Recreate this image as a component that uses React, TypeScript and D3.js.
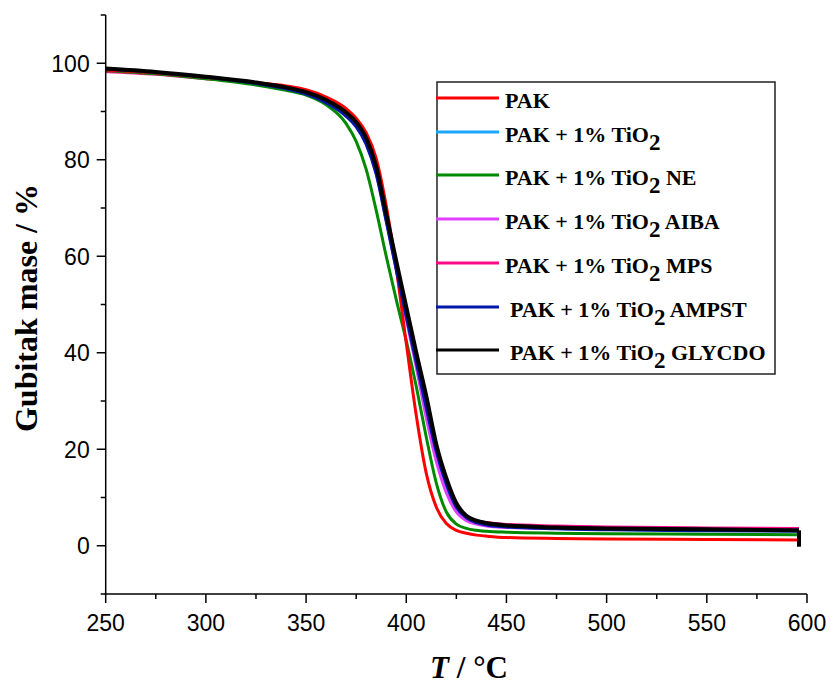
import React from "react";
import * as d3 from "d3";

const temps = [250, 275, 300, 325, 340, 350, 360, 370, 375, 380, 385, 390, 395, 400, 405, 410, 415, 420, 425, 430, 435, 440, 450, 475, 500, 550, 596];

const pak = [98.6, 98.0, 97.1, 96.0, 95.3, 94.5, 93.0, 90.6, 88.6, 85.6, 80.3, 70.5, 57.5, 42.0, 27.0, 15.0, 8.0, 4.6, 3.2, 2.6, 2.2, 2.0, 1.7, 1.5, 1.4, 1.3, 1.2];
const tio2 = [98.6, 98.0, 97.0, 95.8, 94.8, 93.8, 92.1, 89.4, 87.2, 83.8, 77.8, 68.0, 58.0, 48.0, 38.3, 28.0, 19.0, 12.3, 7.7, 5.6, 4.7, 4.3, 3.9, 3.6, 3.4, 3.2, 3.1];
const tio2NE = [98.5, 97.8, 96.8, 95.5, 94.4, 93.4, 91.4, 87.5, 83.8, 78.0, 69.5, 60.0, 51.0, 42.5, 33.0, 22.5, 13.0, 7.0, 4.5, 3.6, 3.2, 3.0, 2.8, 2.6, 2.5, 2.4, 2.3];
const tio2AIBA = [98.7, 98.0, 97.0, 95.8, 94.8, 93.8, 92.0, 89.2, 87.0, 83.4, 77.2, 67.5, 57.3, 47.0, 37.0, 26.5, 17.5, 11.0, 7.0, 5.2, 4.5, 4.1, 3.8, 3.6, 3.5, 3.4, 3.3];
const tio2MPS = [98.3, 97.7, 96.8, 95.8, 94.9, 94.0, 92.3, 89.6, 87.5, 84.2, 78.5, 69.0, 58.8, 49.0, 39.5, 29.5, 20.5, 13.5, 8.5, 6.1, 5.2, 4.8, 4.4, 4.1, 3.9, 3.7, 3.6];
const tio2AMPST = [98.8, 98.1, 97.1, 95.8, 94.7, 93.6, 91.8, 89.0, 86.8, 83.2, 77.0, 67.2, 57.2, 47.5, 38.0, 28.5, 19.5, 12.8, 8.0, 5.8, 4.8, 4.3, 3.9, 3.5, 3.3, 3.1, 3.0];
const tio2GLYCDO = [98.9, 98.2, 97.2, 96.0, 95.0, 94.0, 92.4, 89.8, 87.8, 84.5, 78.6, 68.8, 59.0, 49.5, 40.0, 31.0, 21.0, 14.0, 8.8, 6.2, 5.2, 4.7, 4.2, 3.8, 3.6, 3.4, 3.2];
const glycdoTail = [[596, 3.2], [596, -0.2]];

const seriesNames = ["PAK", "PAK + 1% TiO", "PAK + 1% TiO", "PAK + 1% TiO", "PAK + 1% TiO", "PAK + 1% TiO", "PAK + 1% TiO"];
const seriesSubs = ["", "2", "2", "2", "2", "2", "2"];
const seriesSuffix = ["", "", " NE", " AIBA", " MPS", " AMPST", " GLYCDO"];
const seriesValues = [pak, tio2, tio2NE, tio2AIBA, tio2MPS, tio2AMPST, tio2GLYCDO];
const seriesColors = ["#ff0000", "#1aa6ff", "#008a00", "#dd40ff", "#ff0a88", "#0018a8", "#000000"];
const seriesWidths = [3, 3, 3, 3, 3, 3, 4];
const drawOrder = [1, 4, 3, 2, 0, 5, 6];

const xTicks = [250, 300, 350, 400, 450, 500, 550, 600];
const xMinor = [275, 325, 375, 425, 475, 525, 575];
const yTicks = [0, 20, 40, 60, 80, 100];
const yMinor = [-10, 10, 30, 50, 70, 90, 110];

export default function App() {
  const W = 833, H = 684;
  const x = d3.scaleLinear().domain([250, 600]).range([105.7, 807]);
  const y = d3.scaleLinear().domain([-10, 110]).range([594, 15]);
  const line = d3
    .line<[number, number]>()
    .x((d) => x(d[0]))
    .y((d) => y(d[1]))
    .curve(d3.curveMonotoneX);
  const lineLin = d3
    .line<number[]>()
    .x((d) => x(d[0]))
    .y((d) => y(d[1]));

  const axisFont = "Arial, 'Liberation Sans', sans-serif";
  const serif = "'Times New Roman', 'Liberation Serif', serif";
  const legendRowY = [98, 132, 175, 219, 263, 307, 350];
  const legendTextX = [505, 505, 505, 505, 505, 510, 510];

  return (
    <svg width={W} height={H} style={{ position: "absolute", left: 0, top: 0, background: "#fff" }}>
      <rect x={0} y={0} width={W} height={H} fill="#fff" />
      {drawOrder.map((i) => (
        <path
          key={i}
          d={line(temps.map((t, k) => [t, seriesValues[i][k]]) as [number, number][]) || ""}
          fill="none"
          stroke={seriesColors[i]}
          strokeWidth={seriesWidths[i]}
          strokeLinejoin="round"
        />
      ))}
      <path d={lineLin(glycdoTail) || ""} fill="none" stroke="#000" strokeWidth={4} />

      {/* axes */}
      <line x1={x(250)} x2={x(250)} y1={y(110)} y2={y(-10)} stroke="#000" strokeWidth={1.5} />
      <line x1={x(250) - 1} x2={x(600)} y1={y(-10)} y2={y(-10)} stroke="#000" strokeWidth={1.5} />
      {yTicks.map((t) => (
        <g key={"y" + t}>
          <line x1={x(250) - 9} x2={x(250)} y1={y(t)} y2={y(t)} stroke="#000" strokeWidth={1.5} />
          <text x={x(250) - 16} y={y(t)} dy="0.36em" textAnchor="end" fontFamily={axisFont} fontSize={23}>
            {t}
          </text>
        </g>
      ))}
      {yMinor.map((t) => (
        <line key={"ym" + t} x1={x(250) - 5} x2={x(250)} y1={y(t)} y2={y(t)} stroke="#000" strokeWidth={1.5} />
      ))}
      {xTicks.map((t) => (
        <g key={"x" + t}>
          <line x1={x(t)} x2={x(t)} y1={y(-10)} y2={y(-10) + 9} stroke="#000" strokeWidth={1.5} />
          <text x={x(t)} y={631} textAnchor="middle" fontFamily={axisFont} fontSize={23}>
            {t}
          </text>
        </g>
      ))}
      {xMinor.map((t) => (
        <line key={"xm" + t} x1={x(t)} x2={x(t)} y1={y(-10)} y2={y(-10) + 5} stroke="#000" strokeWidth={1.5} />
      ))}

      {/* axis titles */}
      <text
        transform={`translate(37, 308) rotate(-90)`}
        textAnchor="middle"
        fontFamily={serif}
        fontWeight="bold"
        fontSize={32}
      >
        Gubitak mase / %
      </text>
      <text x={469} y={678} textAnchor="middle" fontFamily={serif} fontWeight="bold" fontSize={31}>
        <tspan fontStyle="italic">T</tspan> / °C
      </text>

      {/* legend */}
      <rect x={437} y={82} width={338} height={292} fill="#fff" stroke="#222" strokeWidth={1.5} />
      {seriesNames.map((n, i) => (
        <g key={"lg" + i}>
          <line x1={436} x2={499} y1={legendRowY[i]} y2={legendRowY[i]} stroke={seriesColors[i]} strokeWidth={3} />
          <text x={legendTextX[i]} y={legendRowY[i] + 10} fontFamily={serif} fontWeight="bold" fontSize={22}>
            {n}
            {seriesSubs[i] ? <tspan dy={8} fontSize={23}>{seriesSubs[i]}</tspan> : null}
            {seriesSuffix[i] ? <tspan dy={-8}>{seriesSuffix[i]}</tspan> : null}
          </text>
        </g>
      ))}
    </svg>
  );
}
